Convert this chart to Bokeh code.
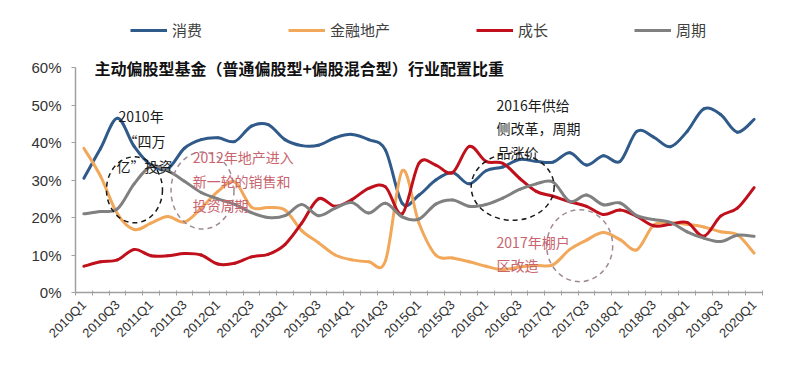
import math
from bokeh.plotting import figure
from bokeh.models import (Range1d, FixedTicker, PrintfTickFormatter, Legend, LegendItem,
                          Label, ColumnDataSource)
from bokeh.embed import file_html
from bokeh.resources import INLINE

# ---------------- data ----------------
quarters = [f"{y}Q{q}" for y in range(2010, 2021) for q in range(1, 5)][:41]

consumption = [30.5, 38.5, 46.5, 39, 34, 33, 38.5, 40.8, 41.3, 40.3, 44.4, 44.8, 40.8, 39.2,
               39.3, 41.3, 42.2, 40.8, 38, 23.8, 26, 30, 32, 29, 32.5, 33.5, 35.5, 35, 34.8,
               37.3, 34, 36.5, 35, 43, 41.5, 38.9, 43, 49, 47.5, 42.8, 46.2]
finance_re = [38.5, 31, 21, 16.8, 18.5, 20.3, 18.8, 22.5, 27, 29.5, 22.8, 22.7, 22, 16.5,
              13.3, 10, 8.7, 8.2, 8.5, 32.5, 18.5, 10, 9.2, 8.2, 7, 6.1, 6.8, 7.2, 7.4, 11.5,
              14, 16, 14.1, 11.4, 18, 18.6, 18.2, 17.5, 16.2, 15.4, 10.5]
growth = [7, 8.2, 8.7, 11.5, 9.8, 9.8, 10.4, 10, 7.6, 7.8, 9.5, 10.2, 12.8, 18.5, 25, 23,
          24.8, 27.8, 28.2, 21, 34.5, 34, 32, 39, 35, 34.5, 30.5, 27, 25.7, 24.2, 23, 20.8,
          22, 20.3, 17.8, 18.2, 18.7, 15, 20.4, 22.5, 28]
cyclical = [21, 21.6, 22.3, 29, 33.7, 32.5, 29.7, 26.7, 25, 23.5, 21.3, 20, 20.5, 23.5,
            20.5, 22.5, 24, 21.2, 23.8, 20.2, 19.6, 23.6, 24.7, 23, 23.5, 25.2, 27.5, 29,
            29.5, 24.3, 26, 23.4, 23.9, 20.5, 19.5, 18.7, 16.2, 14.5, 13.6, 15.3, 15]

series_names = ["消费", "金融地产", "成长", "周期"]
series_values = [consumption, finance_re, growth, cyclical]
series_colors = ["#2F5A8A", "#F2A85A", "#C0101C", "#808080"]

y_ticks = [0, 10, 20, 30, 40, 50, 60]

# ---------------- figure ----------------
n = len(quarters)
xs = [i + 0.5 for i in range(n)]

p = figure(width=784, height=356, output_backend="svg", toolbar_location=None,
           x_range=Range1d(0, n), y_range=Range1d(0, 75),
           min_border_left=75, min_border_right=22, min_border_top=11, min_border_bottom=64)
p.outline_line_color = None
p.xgrid.visible = False
p.ygrid.visible = False
p.background_fill_color = "white"
p.border_fill_color = "white"

# x axis
xa = p.xaxis[0]
xa.ticker = FixedTicker(ticks=[xs[i] for i in range(0, n, 2)], minor_ticks=list(range(n + 1)))
xa.major_label_overrides = {xs[i]: quarters[i] for i in range(0, n, 2)}
xa.major_label_orientation = math.pi / 4
xa.major_tick_line_color = None
xa.minor_tick_line_color = "#A0A0A0"
xa.minor_tick_in = 2
xa.minor_tick_out = 3
xa.axis_line_color = "#A0A0A0"
xa.axis_line_width = 1.5
xa.major_label_text_font = "Liberation Sans"
xa.major_label_text_font_size = "13px"
xa.major_label_text_color = "#333333"
xa.major_label_standoff = 4

# y axis
ya = p.yaxis[0]
ya.ticker = FixedTicker(ticks=y_ticks)
ya.bounds = (0, 60)
ya.formatter = PrintfTickFormatter(format="%d%%")
ya.minor_tick_line_color = None
ya.major_tick_in = 0
ya.major_tick_out = 4
ya.major_tick_line_color = "#A0A0A0"
ya.axis_line_color = "#A0A0A0"
ya.axis_line_width = 1.5
ya.major_label_text_font = "Liberation Sans"
ya.major_label_text_font_size = "15px"
ya.major_label_text_color = "#333333"
ya.major_label_standoff = 10

# ---------------- smoothed lines (Bezier from data points) ----------------
legend_items = []
for name, vals, col in zip(series_names, series_values, series_colors):
    x0s, y0s, x1s, y1s, c0x, c0y, c1x, c1y = [], [], [], [], [], [], [], []
    for k in range(n - 1):
        a = max(k - 1, 0)
        d = min(k + 2, n - 1)
        x0s.append(xs[k]); y0s.append(vals[k])
        x1s.append(xs[k + 1]); y1s.append(vals[k + 1])
        c0x.append(xs[k] + (xs[k + 1] - xs[a]) / 6.0)
        c0y.append(vals[k] + (vals[k + 1] - vals[a]) / 6.0)
        c1x.append(xs[k + 1] - (xs[d] - xs[k]) / 6.0)
        c1y.append(vals[k + 1] - (vals[d] - vals[k]) / 6.0)
    src = ColumnDataSource(dict(x0=x0s, y0=y0s, x1=x1s, y1=y1s,
                                cx0=c0x, cy0=c0y, cx1=c1x, cy1=c1y))
    p.bezier(x0="x0", y0="y0", x1="x1", y1="y1", cx0="cx0", cy0="cy0", cx1="cx1", cy1="cy1",
             source=src, line_color=col, line_width=3, line_cap="round")
    # single-point line: invisible in the plot, used only for the legend swatch
    key = p.line(x=[xs[0]], y=[vals[0]], line_color=col, line_width=3)
    legend_items.append(LegendItem(label=name, renderers=[key]))

legend = Legend(items=legend_items, orientation="horizontal", location=(55, 252),
                spacing=86, label_standoff=5, glyph_width=37, glyph_height=20,
                label_text_font="Noto Sans CJK SC", label_text_font_size="15px",
                label_text_color="#404040", border_line_color=None,
                background_fill_alpha=0, padding=0, margin=0)
p.add_layout(legend, "center")

# ---------------- title ----------------
p.add_layout(Label(x=1.13, y=60, text="主动偏股型基金（普通偏股型+偏股混合型）行业配置比重",
                   text_font="Noto Sans CJK SC", text_font_style="bold",
                   text_font_size="16px", text_color="#111111", text_baseline="middle"))

# ---------------- annotations ----------------
black = "#1A1A1A"
pink = "#C8646E"
ring_pink = "#A08A92"


def note(x, y, text, color):
    p.add_layout(Label(x=x, y=y, text=text, text_font="Noto Sans CJK SC",
                       text_font_size="14px", text_color=color, text_baseline="middle"))


note(2.57, 47.2, "2010年", black)
note(2.87, 40.5, "“四万", black)
note(2.45, 33.8, "亿”投资", black)

note(6.99, 36.2, "2012年地产进入", pink)
note(6.99, 29.8, "新一轮的销售和", pink)
note(6.99, 23.4, "投资周期", pink)

note(25.13, 50.1, "2016年供给", black)
note(25.13, 44.0, "侧改革，周期", black)
note(25.13, 37.6, "品涨价", black)

note(25.13, 13.5, "2017年棚户", pink)
note(25.13, 7.4, "区改造", pink)

p.ellipse(x=[3.52], y=[27.4], width=56, height=66, width_units="screen", height_units="screen",
          fill_color=None, line_color=black, line_width=1.5, line_dash="5 4")
p.ellipse(x=[7.58], y=[27.2], width=63, height=77, width_units="screen", height_units="screen",
          fill_color=None, line_color=ring_pink, line_width=1.5, line_dash="5 4")
p.ellipse(x=[26.09], y=[28.2], width=83, height=67, width_units="screen", height_units="screen",
          fill_color=None, line_color=black, line_width=1.5, line_dash="5 4")
p.ellipse(x=[30.09], y=[12.5], width=66, height=72, width_units="screen", height_units="screen",
          fill_color=None, line_color=ring_pink, line_width=1.5, line_dash="5 4")

open("out.html", "w").write(file_html(p, INLINE))
